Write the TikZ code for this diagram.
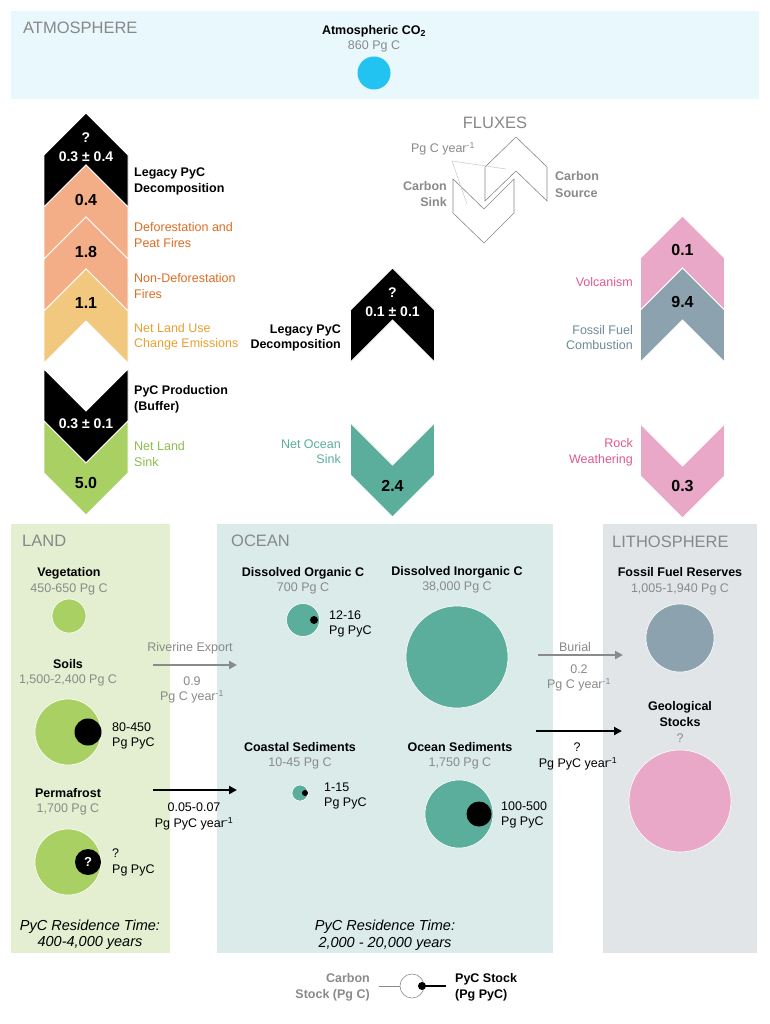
\documentclass[tikz,border=0pt]{standalone}
\usepackage{fontspec}
\setmainfont{Liberation Sans}
\usetikzlibrary{arrows.meta}
\definecolor{atmbg}{HTML}{E9F8FD}
\definecolor{co2}{HTML}{22C3F0}
\definecolor{salmon}{HTML}{F3AE88}
\definecolor{salmontxt}{HTML}{DC6E24}
\definecolor{sand}{HTML}{F2C87E}
\definecolor{sandtxt}{HTML}{E9A030}
\definecolor{leaf}{HTML}{A9D063}
\definecolor{leaftxt}{HTML}{8DBE4B}
\definecolor{teal}{HTML}{5BAE9B}
\definecolor{pinkc}{HTML}{E9A8C7}
\definecolor{pinktxt}{HTML}{E05A90}
\definecolor{slate}{HTML}{8CA2AE}
\definecolor{slatetxt}{HTML}{6F8A97}
\definecolor{landbg}{HTML}{E3EFD0}
\definecolor{oceanbg}{HTML}{DAEBE9}
\definecolor{lithobg}{HTML}{E1E5E8}
\definecolor{txtgray}{HTML}{8A8A8A}
\definecolor{hdrgray}{HTML}{888888}
\definecolor{lightline}{HTML}{C8C8C8}
\newcommand\fsz[1]{\fontsize{#1}{#1}\selectfont}
\tikzset{
  upchev/.pic={\path[pic actions] (0,0) -- (42,42) -- (42,94) -- (0,52) -- (-42,94) -- (-42,42) -- cycle;},
  downchev/.pic={\path[pic actions] (-42,0) -- (0,42) -- (42,0) -- (42,52) -- (0,94) -- (-42,52) -- cycle;},
  lbl/.style={inner sep=0pt, anchor=base, font=\fsz{12.5}},
  bl/.style={lbl, font=\fsz{12.5}\bfseries},
  gr/.style={lbl, text=txtgray},
  hdr/.style={inner sep=0pt, anchor=base west, font=\fsz{16.5}, text=hdrgray},
  num/.style={inner sep=0pt, anchor=base, font=\fsz{16}\bfseries},
  pmnum/.style={inner sep=0pt, anchor=base, font=\fsz{14}\bfseries, text=white},
  ital/.style={inner sep=0pt, anchor=base, font=\fsz{14.5}\itshape},
  stock/.style={circle, inner sep=0pt, draw=white, line width=0.6pt},
  garrow/.style={line width=2.4pt, draw=txtgray, -{Triangle[length=8pt,width=8pt]}},
  karrow/.style={line width=2.4pt, draw=black, -{Triangle[length=8pt,width=8pt]}},
  chevw/.style={draw=white, line width=0.8pt},
}
\begin{document}
\begin{tikzpicture}[x=1pt,y=-1pt]
\useasboundingbox (0,0) rectangle (769,1024);
\fill[white] (0,0) rectangle (769,1024);

% ---------------- Atmosphere
\fill[atmbg] (11,11) rectangle (759,99);
\node[hdr] (atmhdr) at (23,34) {ATMOSPHERE};
\node[bl] (atmt) at (374,34.5) {Atmospheric CO\textsubscript{2}};
\node[gr] (atmv) at (374,49.5) {860 Pg C};
\node[circle, inner sep=0pt, minimum size=33pt, fill=co2] (co2c) at (374,73) {};

% ---------------- FLUXES legend
\node[inner sep=0pt, anchor=base, font=\fsz{16.5}, text=hdrgray] (fluxhdr) at (495,129) {FLUXES};
\draw[hdrgray, line width=0.6pt] (516,137) -- (547,167) -- (547,201) -- (516,171) -- (485,201) -- (485,167) -- cycle;
\draw[hdrgray, line width=0.6pt] (453,179) -- (484,209) -- (514,179) -- (514,213) -- (484,243) -- (453,213) -- cycle;
\node[gr] (fluxunit) at (443,152.5) {Pg C year\textsuperscript{-1}};
\coordinate (leadA) at (452,161);
\coordinate (leadB) at (506,169);
\coordinate (leadC) at (467,204);
\draw[lightline, line width=0.5pt] (leadB) -- (leadA) -- (leadC);
\node[bl, anchor=base east, text=txtgray] (sinkA) at (447,190.5) {Carbon};
\node[bl, anchor=base east, text=txtgray] (sinkB) at (447,206.5) {Sink};
\node[bl, anchor=base west, text=txtgray] (srcA) at (555,180.5) {Carbon};
\node[bl, anchor=base west, text=txtgray] (srcB) at (555,197.5) {Source};

% ---------------- Left column chevrons
\pic[fill=black, chevw] at (86,113) {upchev};
\pic[fill=salmon, chevw] at (86,165) {upchev};
\pic[fill=salmon, chevw] at (86,217) {upchev};
\pic[fill=sand, chevw] at (86,269) {upchev};
\pic[fill=black, chevw] at (86,369) {downchev};
\pic[fill=leaf, chevw] at (86,421) {downchev};
\node[pmnum] (lq) at (86,143) {?};
\node[pmnum] (lleg) at (86,162) {0.3 ± 0.4};
\node[num] (ldef) at (86,205.7) {0.4};
\node[num] (lnon) at (86,257.7) {1.8};
\node[num] (lluc) at (86,308.7) {1.1};
\node[pmnum] (lprod) at (86,428) {0.3 ± 0.1};
\node[num] (lsink) at (86,488.7) {5.0};

\node[bl, anchor=base west] (la1) at (134,176.5) {Legacy PyC};
\node[bl, anchor=base west] (la2) at (134,192.5) {Decomposition};
\node[lbl, anchor=base west, text=salmontxt] (lb1) at (134,231.5) {Deforestation and};
\node[lbl, anchor=base west, text=salmontxt] (lb2) at (134,247.5) {Peat Fires};
\node[lbl, anchor=base west, text=salmontxt] (lc1) at (134,282.5) {Non-Deforestation};
\node[lbl, anchor=base west, text=salmontxt] (lc2) at (134,298) {Fires};
\node[lbl, anchor=base west, text=sandtxt] (ld1) at (134,332.5) {Net Land Use};
\node[lbl, anchor=base west, text=sandtxt] (ld2) at (134,347.5) {Change Emissions};
\node[bl, anchor=base west] (le1) at (134,394.5) {PyC Production};
\node[bl, anchor=base west] (le2) at (134,410.5) {(Buffer)};
\node[lbl, anchor=base west, text=leaftxt] (lf1) at (134,450.5) {Net Land};
\node[lbl, anchor=base west, text=leaftxt] (lf2) at (134,466.5) {Sink};

% ---------------- Middle column chevrons
\pic[fill=black, chevw] at (392.5,268) {upchev};
\pic[fill=teal, chevw] at (392.5,423) {downchev};
\node[pmnum] (mq) at (392.5,297) {?};
\node[pmnum] (mleg) at (392.5,316) {0.1 ± 0.1};
\node[num] (msink) at (392.5,491.7) {2.4};
\node[bl, anchor=base east] (ma1) at (341,333.5) {Legacy PyC};
\node[bl, anchor=base east] (ma2) at (341,348.5) {Decomposition};
\node[lbl, anchor=base east, text=teal] (mb1) at (341,448.5) {Net Ocean};
\node[lbl, anchor=base east, text=teal] (mb2) at (341,463.5) {Sink};

% ---------------- Right column chevrons
\pic[fill=pinkc, chevw] at (682.5,216) {upchev};
\pic[fill=slate, chevw] at (682.5,268) {upchev};
\pic[fill=pinkc, chevw] at (682.5,424) {downchev};
\node[num] (rvol) at (682.5,255.7) {0.1};
\node[num] (rfos) at (682.5,307.7) {9.4};
\node[num] (rrock) at (682.5,491.7) {0.3};
\node[lbl, anchor=base east, text=pinktxt] (ra1) at (633,286.5) {Volcanism};
\node[lbl, anchor=base east, text=slatetxt] (rb1) at (633,334.5) {Fossil Fuel};
\node[lbl, anchor=base east, text=slatetxt] (rb2) at (633,349.5) {Combustion};
\node[lbl, anchor=base east, text=pinktxt] (rc1) at (633,447.5) {Rock};
\node[lbl, anchor=base east, text=pinktxt] (rc2) at (633,463.5) {Weathering};

% ---------------- Panels
\fill[landbg] (11,524) rectangle (170,953);
\fill[oceanbg] (217,524) rectangle (553,953);
\fill[lithobg] (603,524) rectangle (757,953);
\node[hdr] (landhdr) at (22,546) {LAND};
\node[hdr] (oceanhdr) at (231,546) {OCEAN};
\node[hdr] (lithohdr) at (612,547) {LITHOSPHERE};

% LAND
\node[bl] (vegt) at (69,576.5) {Vegetation};
\node[gr] (vegv) at (69,592.5) {450-650 Pg C};
\node[stock, fill=leaf, minimum size=34pt] (veg) at (69,616) {};
\node[bl] (soilt) at (68,668.5) {Soils};
\node[gr] (soilv) at (68,683.5) {1,500-2,400 Pg C};
\node[stock, fill=leaf, minimum size=66pt] (soil) at (68,732) {};
\node[circle, inner sep=0pt, fill=black, minimum size=27pt] (soilpyc) at (88,732) {};
\node[lbl, anchor=base west] (soilp1) at (112,731.5) {80-450};
\node[lbl, anchor=base west] (soilp2) at (112,746.5) {Pg PyC};
\node[bl] (permt) at (68,797.5) {Permafrost};
\node[gr] (permv) at (68,812.5) {1,700 Pg C};
\node[stock, fill=leaf, minimum size=66pt] (perm) at (68,862) {};
\node[circle, inner sep=0pt, fill=black, minimum size=26pt, text=white, font=\fsz{13}\bfseries] (permpyc) at (88,862) {?};
\node[lbl, anchor=base west] (permp1) at (112,857.5) {?};
\node[lbl, anchor=base west] (permp2) at (112,873.5) {Pg PyC};
\node[ital] (landr1) at (90,930) {PyC Residence Time:};
\node[ital] (landr2) at (90,946) {400-4,000 years};

% Land -> Ocean fluxes
\coordinate (rivS) at (153,665);
\coordinate (rivE) at (237,665);
\draw[garrow] (rivS) -- (rivE);
\node[gr] (rivt) at (190,651.5) {Riverine Export};
\node[gr] (rivv) at (192,685.5) {0.9};
\node[gr] (rivu) at (192,700.5) {Pg C year\textsuperscript{-1}};
\coordinate (pexS) at (153,790);
\coordinate (pexE) at (237,790);
\draw[karrow] (pexS) -- (pexE);
\node[lbl] (pexv) at (194,811.5) {0.05-0.07};
\node[lbl] (pexu) at (194,827.5) {Pg PyC year\textsuperscript{-1}};

% OCEAN
\node[bl] (doct) at (303,576.5) {Dissolved Organic C};
\node[gr] (docv) at (303,591.5) {700 Pg C};
\node[stock, fill=teal, minimum size=33pt] (doc) at (303,620) {};
\node[circle, inner sep=0pt, fill=black, minimum size=8pt] (docpyc) at (314,620) {};
\node[lbl, anchor=base west] (docp1) at (329,619.5) {12-16};
\node[lbl, anchor=base west] (docp2) at (329,634.5) {Pg PyC};
\node[bl] (dict) at (457,575.5) {Dissolved Inorganic C};
\node[gr] (dicv) at (457,590.5) {38,000 Pg C};
\node[stock, fill=teal, minimum size=102pt] (dic) at (457,657) {};
\node[bl] (coat) at (300,751.5) {Coastal Sediments};
\node[gr] (coav) at (300,766.5) {10-45 Pg C};
\node[stock, fill=teal, minimum size=16pt] (coa) at (300,793) {};
\node[circle, inner sep=0pt, fill=black, minimum size=6pt] (coapyc) at (305,793) {};
\node[lbl, anchor=base west] (coap1) at (324,791.5) {1-15};
\node[lbl, anchor=base west] (coap2) at (324,806.5) {Pg PyC};
\node[bl] (osedt) at (460,751.5) {Ocean Sediments};
\node[gr] (osedv) at (460,766.5) {1,750 Pg C};
\node[stock, fill=teal, minimum size=68pt] (osed) at (459,814) {};
\node[circle, inner sep=0pt, fill=black, minimum size=25pt] (osedpyc) at (479,814) {};
\node[lbl, anchor=base west] (osedp1) at (501,810.5) {100-500};
\node[lbl, anchor=base west] (osedp2) at (501,825.5) {Pg PyC};
\node[ital] (ocr1) at (385,930) {PyC Residence Time:};
\node[ital] (ocr2) at (385,947) {2,000 - 20,000 years};

% Ocean -> Lithosphere fluxes
\coordinate (burS) at (538,655);
\coordinate (burE) at (623,655);
\draw[garrow] (burS) -- (burE);
\node[gr] (burt) at (575,651.5) {Burial};
\node[gr] (burv) at (579,673.5) {0.2};
\node[gr] (buru) at (579,688.5) {Pg C year\textsuperscript{-1}};
\coordinate (pbS) at (536,731);
\coordinate (pbE) at (622,731);
\draw[karrow] (pbS) -- (pbE);
\node[lbl] (pbv) at (577,751.5) {?};
\node[lbl] (pbu) at (578,767.5) {Pg PyC year\textsuperscript{-1}};

% LITHOSPHERE
\node[bl] (ffrt) at (680,576.5) {Fossil Fuel Reserves};
\node[gr] (ffrv) at (680,592.5) {1,005-1,940 Pg C};
\node[stock, fill=slate, minimum size=68pt] (ffr) at (680,638) {};
\node[bl] (geot1) at (680,710.5) {Geological};
\node[bl] (geot2) at (680,726.5) {Stocks};
\node[gr] (geov) at (680,742.5) {?};
\node[stock, fill=pinkc, minimum size=102pt] (geo) at (680,801) {};

% ---------------- Bottom legend
\node[circle, inner sep=0pt, minimum size=24pt, draw=txtgray, fill=white, line width=0.6pt] (legc) at (412,986) {};
\node[circle, inner sep=0pt, minimum size=8pt, fill=black] (legp) at (422,986) {};
\coordinate (legL) at (379,986);
\coordinate (legR) at (446,986);
\draw[txtgray, line width=1pt] (legL) -- (legc.west);
\draw[black, line width=1.2pt] (legp.center) -- (legR);
\node[bl, anchor=base east, text=txtgray] (legt1) at (370,982.5) {Carbon};
\node[bl, anchor=base east, text=txtgray] (legt2) at (370,998.5) {Stock (Pg C)};
\node[bl, anchor=base west] (legt3) at (455,982.5) {PyC Stock};
\node[bl, anchor=base west] (legt4) at (455,998.5) {(Pg PyC)};
\end{tikzpicture}
\end{document}
